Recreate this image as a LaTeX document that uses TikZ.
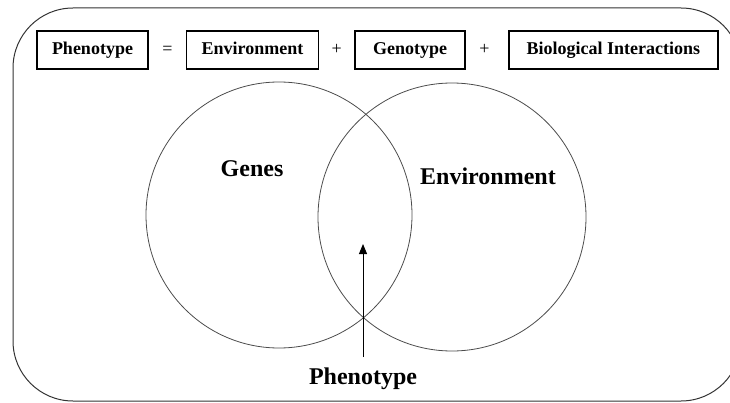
\documentclass[tikz,border=0pt]{standalone}
\usepackage{fontspec}
\setmainfont{Liberation Serif}
\usepackage{tikz}
\usetikzlibrary{arrows.meta, positioning}
\tikzstyle{termbox} = [rectangle, draw=black, line width=1.5pt, minimum height=38pt, inner xsep=15pt, text height=12.5pt, text depth=4pt, font=\fontsize{18}{20}\selectfont\bfseries]
\tikzstyle{sign} = [font=\fontsize{18}{20}\selectfont, text height=12.5pt, text depth=4pt]
\tikzstyle{venn} = [circle, draw=black!70, line width=0.8pt, inner sep=0pt]
\tikzstyle{biglabel} = [font=\fontsize{24}{28}\selectfont\bfseries]
\tikzstyle{arrow} = [line width=0.9pt, -{Triangle[length=10pt,width=8pt]}]

\begin{document}
\begin{tikzpicture}[x=1pt,y=1pt]
            \useasboundingbox (0,0) rectangle (730,402);
            \draw[black!80, line width=1pt, rounded corners=60pt] (13,1) rectangle (741,394);

            % equation row
            \node[termbox] (pheno) at (92.5,352) {Phenotype};
            \node[sign, right=10pt of pheno] (eq) {=};
            \node[termbox, right=10pt of eq, minimum width=130pt] (env) {Environment};
            \node[sign, right=9pt of env] (plus-1) {+};
            \node[termbox, right=9pt of plus-1, minimum width=110pt] (geno) {Genotype};
            \node[sign, right=10pt of geno] (plus-2) {+};
            \node[termbox, right=15pt of plus-2, minimum width=209pt] (bio) {Biological Interactions};

            % venn circles
            \node[venn, minimum size=266pt] (genes) at (279,187) {};
            \node[venn, minimum size=268pt] (environ) at (452,185) {};
            \node[biglabel, anchor=base] (genes-label) at (252,225) {Genes};
            \node[biglabel, anchor=base] (environ-label) at (488,217) {Environment};

            \node[biglabel, anchor=base, inner ysep=10pt] (pheno-label) at (363,18) {Phenotype};
            \coordinate (pheno-tip) at (363,158);
            \draw[arrow] (pheno-label.north) -- (pheno-tip);

        \end{tikzpicture}
\end{document}
